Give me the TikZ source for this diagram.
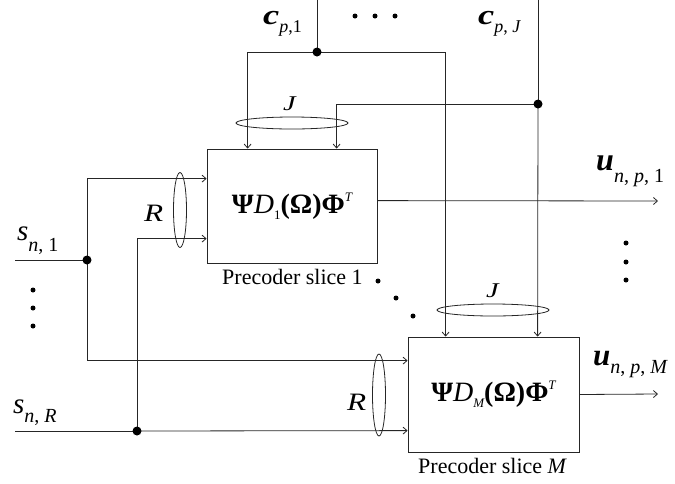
\documentclass[tikz,border=0pt]{standalone}
\usepackage{fontspec}
\setmainfont{Liberation Serif}
\usetikzlibrary{arrows.meta,calc,shapes.geometric}
\newcommand\lab[5]{{\fontsize{#1}{#1}\selectfont\itshape #2}\raisebox{-#3}{\fontsize{#4}{#4}\selectfont #5}}
\newcommand\boxmath[1]{{\bfseries Ψ}\textit{D}\raisebox{-6pt}{\fontsize{13}{13}\selectfont #1}{\bfseries (Ω)Φ}\raisebox{12pt}{\fontsize{13}{13}\selectfont\itshape T}}
\begin{document}
\begin{tikzpicture}[x=1pt,y=-1pt,
  wire/.style={draw=black!85,line width=0.8pt},
  arr/.style={wire,-{Straight Barb[length=4pt,width=7pt]}},
  blk/.style={draw=black!85,line width=0.8pt,rectangle,inner sep=0pt,font=\fontsize{28}{28}\selectfont},
  jdot/.style={circle,fill=black,inner sep=0pt,minimum size=9pt},
  sdot/.style={circle,fill=black,inner sep=0pt,minimum size=5pt},
  grp/.style={draw=black!85,line width=0.8pt,ellipse,inner sep=0pt},
  lbl/.style={anchor=base west,inner sep=0pt}]
\useasboundingbox (0,0) rectangle (675,483);

% blocks
\node[blk,minimum width=170pt,minimum height=114pt] (b1) at (292,206) {\boxmath{1}};
\node[blk,minimum width=171pt,minimum height=115pt] (b2) at (493.5,394.5) {\boxmath{\itshape M}};

% end points and junctions
\coordinate (cp1) at (317,0);
\coordinate (cpJ) at (538,0);
\coordinate (sn1) at (15,260);
\coordinate (snR) at (15,431);
\coordinate (o1) at (658,201);
\coordinate (oM) at (658,394);

% connectors
\draw[wire] (cp1) -- (317,52) coordinate (j1);
\draw[arr] (j1) -| ($(b1.north west)+(41,0)$);
\draw[arr] (j1) -| ($(b2.north west)+(38,0)$);
\draw[wire] (cpJ) -- (538,104) coordinate (jJ);
\draw[arr] (jJ) -- ($(b2.north west)+(130,0)$);
\draw[arr] (jJ) -| ($(b1.north west)+(130,0)$);
\draw[wire] (sn1) -- (87,260) coordinate (js1);
\draw[arr] (js1) |- ($(b1.north west)+(0,30)$);
\draw[arr] (js1) |- ($(b2.north west)+(0,24)$);
\draw[wire] (snR) -- (137,431) coordinate (jsR);
\draw[arr] (jsR) -- ($(b2.north west)+(0,94)$);
\draw[arr] (jsR) |- ($(b1.north west)+(0,90)$);
\draw[arr] ($(b1.north east)+(0,52)$) -- (o1);
\draw[arr] (b2.east) -- (oM);

% junction dots
\node[jdot] (d1) at (j1) {};
\node[jdot] (dJ) at (jJ) {};
\node[jdot] (ds1) at (js1) {};
\node[jdot] (dsR) at (jsR) {};

% grouping ellipses
\node[grp,minimum width=112pt,minimum height=12pt] (e1) at (292,123) {};
\node[grp,minimum width=112pt,minimum height=12pt] (e2) at (493,310) {};
\node[grp,minimum width=13pt,minimum height=75pt] (r1) at (180,210) {};
\node[grp,minimum width=13pt,minimum height=82pt] (r2) at (379,395) {};

% filler dots
\node[sdot] (t1) at (355,16) {};
\node[sdot] (t2) at (375,16) {};
\node[sdot] (t3) at (395,16) {};
\node[sdot] (l1) at (33,290) {};
\node[sdot] (l2) at (33,308) {};
\node[sdot] (l3) at (33,326) {};
\node[sdot] (r1d) at (626,243) {};
\node[sdot] (r2d) at (626,262) {};
\node[sdot] (r3d) at (626,280) {};
\node[sdot] (g1) at (378,281) {};
\node[sdot] (g2) at (396,298) {};
\node[sdot] (g3) at (413,316) {};

% labels
\node[lbl] (lc1) at (263,24) {\lab{28}{\bfseries\scalebox{1.3}[1]{c}}{8pt}{18}{\textit{p},1}};
\node[lbl] (lcJ) at (478,24) {\lab{28}{\bfseries\scalebox{1.3}[1]{c}}{8pt}{18}{\textit{p}, \textit{J}}};
\node[lbl] (ls1) at (17,240) {\lab{29}{s}{11pt}{20}{\textit{n}, 1}};
\node[lbl] (lsR) at (13,413) {\lab{29}{s}{9pt}{20}{\textit{n}, \textit{R}}};
\node[lbl] (lu1) at (596,170) {\lab{32}{\bfseries u}{12pt}{20}{\textit{n}, \textit{p}, 1}};
\node[lbl] (luM) at (593,365) {\lab{31}{\bfseries u}{8pt}{20}{\textit{n}, \textit{p}, \textit{M}}};
\node[lbl,font=\fontsize{25}{25}\selectfont\itshape] (lR1) at (144,221) {\scalebox{1.25}[1]{R}};
\node[lbl,font=\fontsize{25}{25}\selectfont\itshape] (lR2) at (347,410) {\scalebox{1.25}[1]{R}};
\node[lbl,font=\fontsize{21}{21}\selectfont\itshape] (lJ1) at (283,110) {\scalebox{1.35}[1]{J}};
\node[lbl,font=\fontsize{21}{21}\selectfont\itshape] (lJ2) at (486,297) {\scalebox{1.35}[1]{J}};
\node[lbl,font=\fontsize{22}{22}\selectfont] (p1) at (222,284) {Precoder slice 1};
\node[lbl,font=\fontsize{22}{22}\selectfont] (pM) at (418,473) {Precoder slice \textit{M}};
\end{tikzpicture}
\end{document}
